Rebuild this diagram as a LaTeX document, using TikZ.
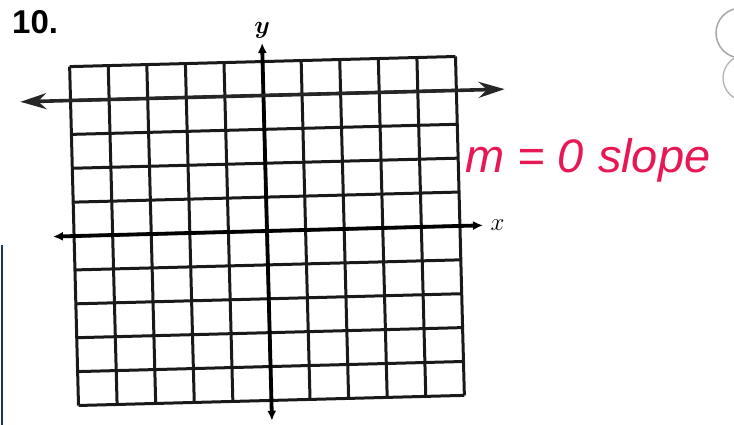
\documentclass[tikz,border=0pt]{standalone}
\usepackage{fontspec}
\newfontfamily\numfont{Liberation Sans}
\newfontfamily\handfont{Liberation Sans}
\usetikzlibrary{arrows.meta, positioning}
\definecolor{inkred}{RGB}{232,24,84}
\definecolor{scanblue}{RGB}{30,52,72}

\begin{document}
\begin{tikzpicture}[
    x=1pt, y=1pt,
    >=Latex,
    % Styles for the worksheet marks
    gridline/.style={draw=black!90, line width=3pt},
    axis/.style={draw=black, line width=3.8pt, {Latex[length=10pt,width=9pt]}-{Latex[length=10pt,width=9pt]}},
    drawn/.style={draw=black!85, line width=3.6pt, {Stealth[length=26pt,width=16pt]}-{Stealth[length=26pt,width=16pt]}},
    handnote/.style={text=inkred, font=\handfont\itshape\fontsize{47}{47}\selectfont}
]
    \useasboundingbox (0,0) rectangle (734,425);

    % 1. Problem number
    \node[font=\numfont\bfseries\fontsize{33}{33}\selectfont, anchor=west, inner sep=0pt] (num) at (12,403) {10.};

    % 2. The grid (scanned a little askew)
    \begin{scope}[shift={(267,194)}, rotate=1.5, x=38.6pt, y=33.9pt]
        \foreach \i in {-5,...,5} {
            \draw[gridline] (\i,-5) -- (\i,5);
            \draw[gridline] (-5,\i) -- (5,\i);
        }

        % Axes
        \coordinate (xleft) at (-5.55,0);
        \coordinate (xright) at (5.6,0);
        \coordinate (ybottom) at (0,-5.6);
        \coordinate (ytop) at (0,5.55);
        \draw[axis] (xleft) -- (xright);
        \draw[axis] (ybottom) -- (ytop);
        \node[font=\fontsize{26}{26}\selectfont, right=4pt of xright] (xlabel) {$x$};
        \node[font=\fontsize{30}{30}\selectfont\boldmath, above=1pt of ytop] (ylabel) {$y$};

        % 3. The drawn line y = 4
        \coordinate (lineleft) at (-6.3,4);
        \coordinate (lineright) at (6.25,4);
        \draw[drawn] (lineleft) -- (lineright);
    \end{scope}

    % 4. Handwritten answer
    \node[handnote, anchor=base west, inner sep=0pt] (answer) at (465,252) {m\;=\;0\hspace{14pt}slope};

    % 5. Scan edges
    \draw[scanblue, line width=2pt] (2,0) -- (2,180);
    \begin{scope}
        \clip (0,0) rectangle (734,425);
        \draw[gray!70, line width=1.5pt] (741,392) circle (25);
        \draw[gray!60, line width=1.3pt] (746,347) circle (23);
    \end{scope}

\end{tikzpicture}
\end{document}
